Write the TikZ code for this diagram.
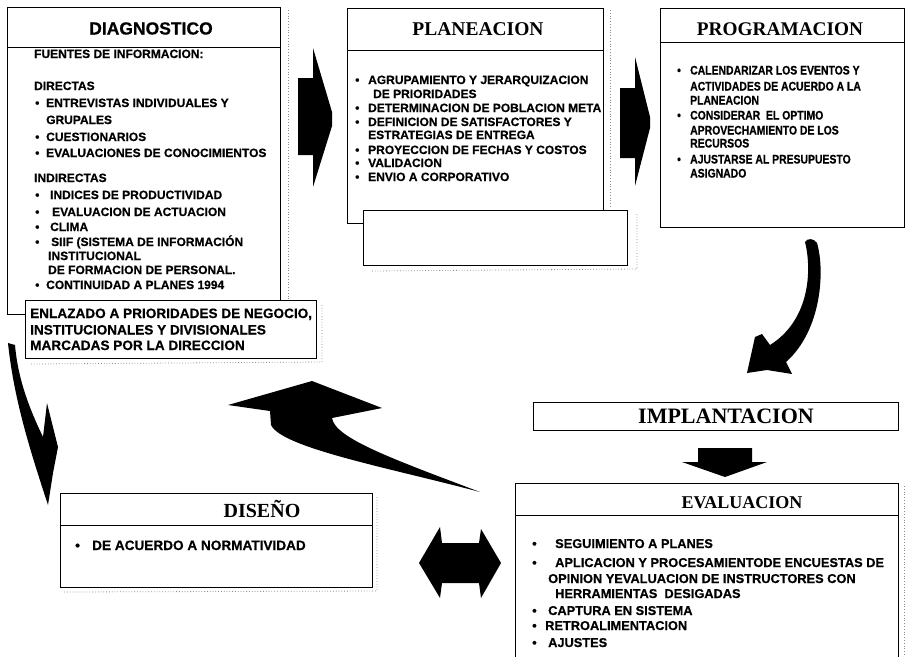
\documentclass[tikz,border=0pt]{standalone}
\usepackage{fontspec}
\setmainfont{Liberation Serif}
\newfontfamily\hvs[BoldFeatures={FakeBold=0.6}]{Liberation Sans}
\newfontfamily\hvn[FakeStretch=0.84,BoldFeatures={FakeBold=0.6}]{Liberation Sans}
\newcommand\bul[1]{\llap{\makebox[#1][l]{\textbullet}}}
\tikzset{
  box/.style={draw=black, line width=0.9pt, fill=white},
  shadowline/.style={draw=black!45, line width=0.8pt, dash pattern=on 0.8pt off 2pt},
  ttl/.style={anchor=base, inner sep=0, font=\bfseries\fontsize{19.5}{20}\selectfont},
  txt/.style={anchor=base west, inner sep=0, font=\hvs\bfseries\fontsize{12}{14}\selectfont},
  blk/.style={fill=black, draw=none},
}
\begin{document}
\begin{tikzpicture}[x=1pt, y=-1pt]
\useasboundingbox (0,0) rectangle (907,656);
\fill[white] (0,0) rectangle (907,656);

% ---------- drop-shadow traces ----------
\draw[shadowline] (288,10) -- (288,300);
\draw[shadowline] (322,305) -- (322,362) -- (30,364);
\draw[shadowline] (610,10) -- (610,208);
\draw[shadowline] (637,214) -- (637,269) -- (370,271);
\draw[shadowline] (377,497) -- (377,591) -- (62,592);
\draw[shadowline] (904,486) -- (904,656);

% ---------- DIAGNOSTICO ----------
\draw[box] (7,7) rectangle (280,314);
\draw[line width=0.9pt] (7,47) -- (280,47);
\node[ttl, font=\hvs\bfseries\fontsize{17.5}{18}\selectfont] (tdiag) at (151,34.5) {DIAGNOSTICO};
\foreach \x/\y/\t [count=\i] in {
  34/58/{FUENTES DE INFORMACION:},
  34/90/DIRECTAS,
  46/107/{\bul{11pt}ENTREVISTAS INDIVIDUALES Y},
  46/124/GRUPALES,
  46/141/{\bul{11pt}CUESTIONARIOS},
  46/157/{\bul{11pt}EVALUACIONES DE CONOCIMIENTOS},
  34/182/INDIRECTAS,
  50/199/{\bul{15pt}INDICES DE PRODUCTIVIDAD},
  52/216/{\bul{17pt}EVALUACION DE ACTUACION},
  50/231/{\bul{15pt}CLIMA},
  51/246/{\bul{16pt}SIIF (SISTEMA DE INFORMACIÓN},
  48/260/INSTITUCIONAL,
  48/274/{DE FORMACION DE PERSONAL.},
  46/289/{\bul{11pt}CONTINUIDAD A PLANES 1994}}
  {\node[txt] (dg\i) at (\x,\y) {\t};}

% linked priorities box
\draw[box] (25,300) rectangle (316,358);
\foreach \y/\t [count=\i] in {
  318/{ENLAZADO A PRIORIDADES DE NEGOCIO,},
  334.5/{INSTITUCIONALES Y DIVISIONALES},
  350/{MARCADAS POR LA DIRECCION}}
  {\node[txt, font=\hvs\bfseries\fontsize{13.6}{15}\selectfont] (en\i) at (30,\y) {\t};}

% ---------- PLANEACION ----------
\draw[box] (347,8) rectangle (603,223);
\draw[line width=0.9pt] (347,50) -- (603,50);
\node[ttl] (tplan) at (478,35.5) {PLANEACION};
\foreach \x/\y/\t [count=\i] in {
  368/84/{\bul{13pt}AGRUPAMIENTO Y JERARQUIZACION},
  373/98/{DE PRIORIDADES},
  368/112/{\bul{13pt}DETERMINACION DE POBLACION META},
  368/126/{\bul{13pt}DEFINICION DE SATISFACTORES Y},
  368/139/{ESTRATEGIAS DE ENTREGA},
  368/154/{\bul{13pt}PROYECCION DE FECHAS Y COSTOS},
  368/167/{\bul{13pt}VALIDACION},
  368/181/{\bul{13pt}ENVIO A CORPORATIVO}}
  {\node[txt] (pl\i) at (\x,\y) {\t};}
\draw[box] (363,210) rectangle (627,265);

% ---------- PROGRAMACION ----------
\draw[box] (660,8) rectangle (904,227);
\draw[line width=0.9pt] (660,42) -- (904,42);
\node[ttl, font=\bfseries\fontsize{19.3}{20}\selectfont] (tprog) at (780,35) {PROGRAMACION};
\foreach \y/\t [count=\i] in {
  74.5/{\bul{13pt}CALENDARIZAR LOS EVENTOS Y},
  90.5/{ACTIVIDADES DE ACUERDO A LA},
  104.5/PLANEACION,
  119.5/{\bul{13pt}CONSIDERAR\ \ EL OPTIMO},
  134.5/{APROVECHAMIENTO DE LOS},
  147.5/RECURSOS,
  163.5/{\bul{13pt}AJUSTARSE AL PRESUPUESTO},
  177.5/ASIGNADO}
  {\node[txt, font=\hvn\bfseries\fontsize{12.4}{13}\selectfont] (pr\i) at (690,\y) {\t};}

% ---------- IMPLANTACION ----------
\draw[box] (533,402) rectangle (898,430);
\node[ttl, font=\bfseries\fontsize{22}{22}\selectfont] (timp) at (726,423) {IMPLANTACION};

% ---------- EVALUACION ----------
\draw[box] (515,483) rectangle (898,670);
\draw[line width=0.9pt] (515,515) -- (898,515);
\node[ttl, font=\bfseries\fontsize{18}{18}\selectfont] (teval) at (742,508) {EVALUACION};
\foreach \x/\y/\t [count=\i] in {
  555/548/{\bul{23pt}SEGUIMIENTO A PLANES},
  555/567/{\bul{23pt}APLICACION Y PROCESAMIENTODE ENCUESTAS DE},
  548/583/{OPINION YEVALUACION DE INSTRUCTORES CON},
  555/598/{HERRAMIENTAS\ \ DESIGADAS},
  548/615/{\bul{16pt}CAPTURA EN SISTEMA},
  545/630/{\bul{13pt}RETROALIMENTACION},
  548/647/{\bul{16pt}AJUSTES}}
  {\node[txt, font=\hvs\bfseries\fontsize{12.8}{15}\selectfont] (ev\i) at (\x,\y) {\t};}

% ---------- DISEÑO ----------
\draw[box] (60,493) rectangle (372,587);
\draw[line width=0.9pt] (60,525) -- (372,525);
\node[ttl, font=\bfseries\fontsize{20}{20}\selectfont] (tdis) at (262,517) {DISEÑO};
\node[txt, font=\hvs\bfseries\fontsize{13.6}{15}\selectfont] (ds1) at (92,550) {\bul{17pt}DE ACUERDO A NORMATIVIDAD};

% ---------- block arrows ----------
% diagnostico -> planeacion
\fill[blk] (298,78) -- (313,78) -- (313,48) -- (332,112) -- (332,126) -- (313,187) -- (313,155) -- (298,155) -- cycle;
% planeacion -> programacion
\fill[blk] (620,88) -- (635,88) -- (635,57) -- (650,117) -- (650,128) -- (635,186) -- (635,158) -- (620,158) -- cycle;
% programacion -> implantacion
\fill[blk] (805,242) .. controls (812,270) and (810,320) .. (770,345) -- (762,334) -- (755,337)
  -- (747,373) -- (767,370) -- (792,374) -- (786,362)
  .. controls (822,330) and (825,270) .. (817,243) .. controls (814,238) and (807,238) .. (805,242) -- cycle;
% implantacion -> evaluacion
\fill[blk] (698,448) -- (752,448) -- (752,462) -- (767,462) -- (725,477) -- (682,462) -- (698,462) -- cycle;
% evaluacion -> back to the cycle
\fill[blk] (228,405) -- (312,381) -- (382,408) -- (332,418)
  .. controls (335,438) and (390,458) .. (480,492)
  .. controls (390,468) and (282,448) .. (271,425) -- (270,411) -- cycle;
% diagnostico -> diseno
\fill[blk] (8,343) .. controls (14,400) and (30,450) .. (48,505) -- (53,473) -- (58,447) -- (47,403)
  -- (43,437) .. controls (30,410) and (18,380) .. (15,345) -- cycle;
% diseno <-> evaluacion
\fill[blk] (419,563) -- (440,527) -- (442,543) -- (479,543) -- (481,529) -- (501,563)
  -- (481,598) -- (479,583) -- (442,583) -- (440,598) -- cycle;
\end{tikzpicture}
\end{document}
